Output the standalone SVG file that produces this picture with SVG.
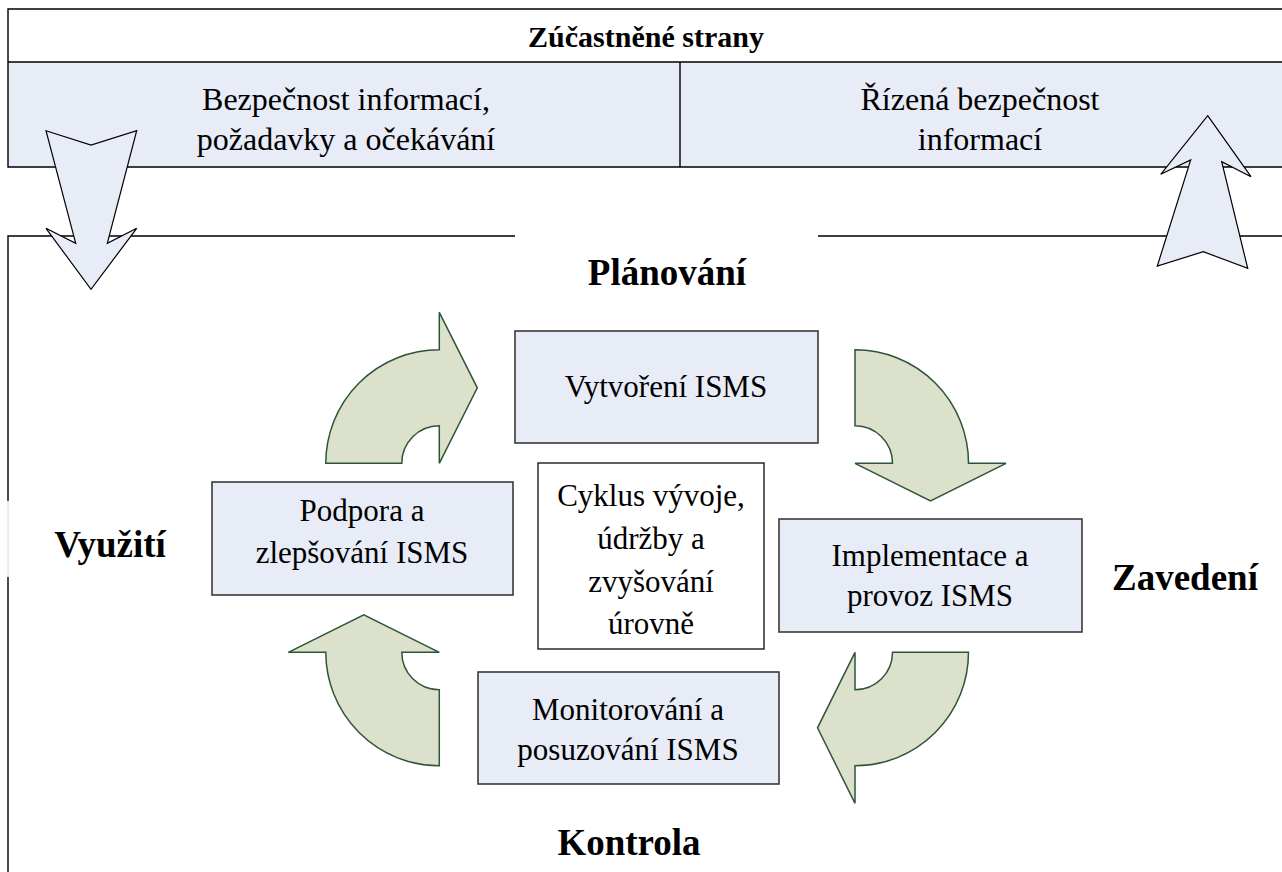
<svg xmlns="http://www.w3.org/2000/svg" width="1282" height="872" viewBox="0 0 1282 872">
<style>
.frame{fill:none;stroke:#000;stroke-width:1.4}
.box{fill:#e7ecf6;stroke:#3a3a3a;stroke-width:1.6}
.wbox{fill:#fff;stroke:#1a1a1a;stroke-width:1.4}
.t{font-family:"Liberation Serif","Times New Roman",serif;font-size:31px;fill:#000;text-anchor:middle}
.h{font-family:"Liberation Serif","Times New Roman",serif;font-size:37px;font-weight:bold;fill:#000;text-anchor:middle}
.cyc{fill:#dce1cb;stroke:#2d5538;stroke-width:1.5;stroke-linejoin:miter}
.blk{fill:#e7ecf6;stroke:#000;stroke-width:1.2;stroke-linejoin:miter}
</style>
<rect width="1282" height="872" fill="#fff"/>
<g id="stakeholders">
<rect x="8" y="62" width="1280" height="105" fill="#e7ecf6"/>
<path class="frame" d="M1282,9 H8 V167 H1282 M8,62 H1282 M680,62 V167"/>
<text class="t" x="646" y="47" style="font-weight:bold;font-size:30px">Zúčastněné strany</text>
</g>
<g id="requirements">
<text class="t" x="346" y="110" style="font-size:32px">Bezpečnost informací,</text>
<text class="t" x="346" y="150" style="font-size:32px">požadavky a očekávání</text>
</g>
<g id="managed">
<text class="t" x="980" y="110" style="font-size:32px">Řízená bezpečnost</text>
<text class="t" x="980" y="150" style="font-size:32px">informací</text>
</g>
<g id="frame">
<path class="frame" d="M515,236 H8 V501 M8,577 V872 M818,236 H1282"/>
<path d="M8,501 V577" fill="none" stroke="#dcdcdc" stroke-width="1"/>
</g>
<g id="planovani"><text class="h" x="667" y="285">Plánování</text></g>
<g id="vyuziti"><text class="h" x="110" y="557">Využití</text></g>
<g id="zavedeni"><text class="h" x="1185" y="590">Zavedení</text></g>
<g id="kontrola"><text class="h" x="629" y="855">Kontrola</text></g>
<g id="vytvoreni">
<rect class="box" x="515" y="331" width="303" height="112"/>
<text class="t" x="666" y="397">Vytvoření ISMS</text>
</g>
<g id="podpora">
<rect class="box" x="212" y="482" width="301" height="113"/>
<text class="t" x="362" y="521">Podpora a</text>
<text class="t" x="362" y="563">zlepšování ISMS</text>
</g>
<g id="cyklus">
<rect class="wbox" x="538" y="463" width="226" height="186"/>
<text class="t" x="651" y="506">Cyklus vývoje,</text>
<text class="t" x="651" y="549">údržby a</text>
<text class="t" x="651" y="592">zvyšování</text>
<text class="t" x="651" y="634">úrovně</text>
</g>
<g id="implementace">
<rect class="box" x="779" y="519" width="303" height="113"/>
<text class="t" x="930" y="566">Implementace a</text>
<text class="t" x="930" y="606">provoz ISMS</text>
</g>
<g id="monitorovani">
<rect class="box" x="478" y="672" width="301" height="112"/>
<text class="t" x="628" y="720">Monitorování a</text>
<text class="t" x="628" y="760">posuzování ISMS</text>
</g>
<g id="connectors">
<path class="cyc" d="M325.8,463.3 A113.5,113.5 0 0 1 439.3,349.8 L439.3,312.3 L477.3,387.8 L439.3,463.3 L439.3,425.8 A37.5,37.5 0 0 0 401.8,463.3 Z"/>
<path class="cyc" d="M855,349.8 A113.5,113.5 0 0 1 968.5,463.3 L1006,463.3 L930.5,500.8 L855,463.3 L892.5,463.3 A37.5,37.5 0 0 0 855,425.8 Z"/>
<path class="cyc" d="M892.5,652.3 L968.5,652.3 A113.5,113.5 0 0 1 855,765.8 L855,803.3 L817.5,727.8 L855,652.3 L855,689.8 A37.5,37.5 0 0 0 892.5,652.3 Z"/>
<path class="cyc" d="M325.8,652.3 A113.5,113.5 0 0 0 439.3,765.8 L439.3,689.8 A37.5,37.5 0 0 1 401.8,652.3 L439.3,652.3 L363.8,614.8 L288.3,652.3 Z"/>
<path class="blk" d="M46,130.7 L91,145 L136.7,130.7 L107.3,243.3 L136.7,228.3 L91,289.3 L46,228.3 L75.7,243.3 Z"/>
<path class="blk" d="M1207.7,115.7 L1251,176.7 L1221.7,161.7 L1247.7,268.3 L1203.3,251.7 L1157.3,266 L1190.7,160 L1160.7,174.3 Z"/>
</g>
</svg>
